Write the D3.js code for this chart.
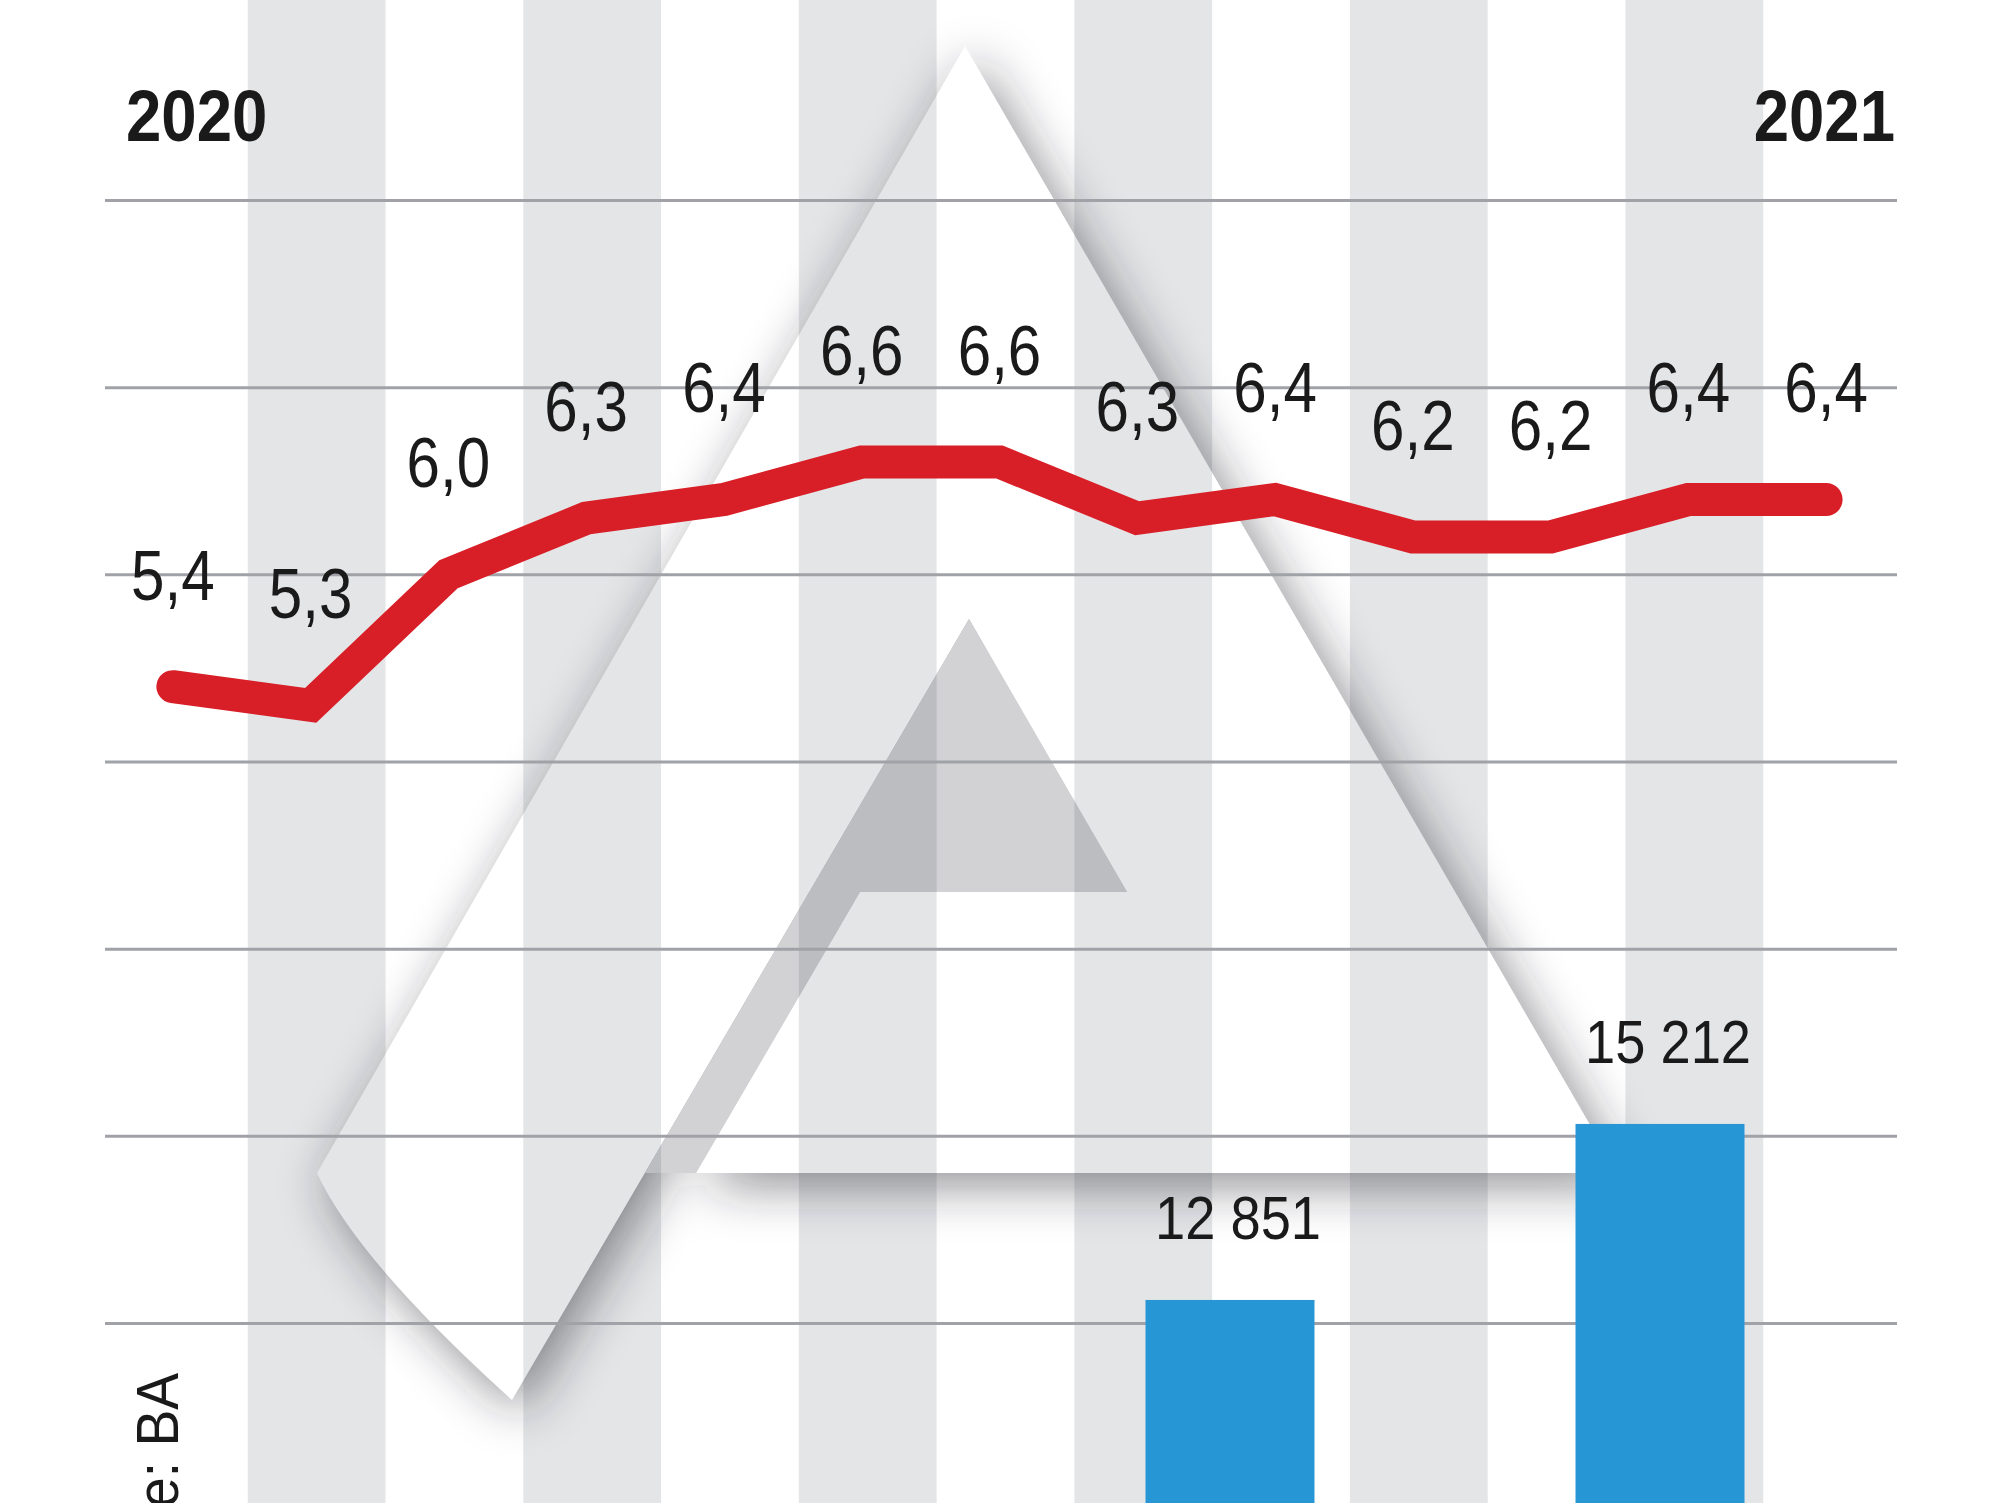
<!doctype html>
<html>
<head>
<meta charset="utf-8">
<style>
  html, body { margin: 0; padding: 0; background: #fff; }
  svg { display: block; }
  text { font-family: "Liberation Sans", Arial, sans-serif; fill: #1a1a1a; }
</style>
<script src="https://d3js.org/d3.v7.min.js"></script>
</head>
<body>
<svg width="2000" height="1503"></svg>
<script>
  // monthly values (one column per month)
  var months = ["2020-02", "2020-03", "2020-04", "2020-05", "2020-06", "2020-07", "2020-08",
                "2020-09", "2020-10", "2020-11", "2020-12", "2021-01", "2021-02"];
  var rate = [5.4, 5.3, 6.0, 6.3, 6.4, 6.6, 6.6, 6.3, 6.4, 6.2, 6.2, 6.4, 6.4];
  var gridTicks = [2, 3, 4, 5, 6, 7, 8];
  var yearLabels = ["2020", "2021"];

  // bars (only the upper part of them is in the picture)
  var barCategories = ["Q3", "Q4"];
  var barValues = [12851, 15212];

  var sourceText = "Quelle: BA";

  var svg = d3.select("svg"),
    width = +svg.attr("width"),
    height = +svg.attr("height");

  var x = d3.scaleBand().domain(months).range([110, 1901]);
  var y = d3.scaleLinear().domain([2, 8]).range([1323, 200]);
  var xBar = d3.scaleBand().domain(barCategories).range([1015, 1875])
    .paddingInner(0.607).paddingOuter(0.3035);
  var yBar = d3.scaleLinear().domain([0, 20000]).range([2258, 767]);

  function px(d) { return x(d) + x.bandwidth() / 2 - 6; }

  var de = d3.formatLocale({ decimal: ",", thousands: " ", grouping: [3], currency: ["", " €"] });
  var fmtRate = de.format(".1f"),
    fmtBar = de.format(",d");

  // grey columns
  svg.append("g").selectAll("rect")
    .data(months.filter(function (d, i) { return i % 2 === 1; }))
    .enter().append("rect")
    .attr("x", function (d) { return x(d); })
    .attr("y", 0)
    .attr("width", x.bandwidth())
    .attr("height", height)
    .attr("fill", "#e4e5e7");

  // background "A" logo, only its shadows are visible
  var logoA = "M965,46 L1618,1173 L696,1173 L860,892 L1127,892 L969,619 L512,1400 Q357,1260 317,1173 Z";
  var logoHole = "M969,619 L1127,892 L860,892 L696,1173 L645,1173 Z";

  var defs = svg.append("defs");
  defs.append("filter")
    .attr("id", "soft")
    .attr("filterUnits", "userSpaceOnUse")
    .attr("x", -200).attr("y", -200).attr("width", 2400).attr("height", 1900)
    .append("feGaussianBlur").attr("stdDeviation", 26);
  var mask = defs.append("mask")
    .attr("id", "outside")
    .attr("maskUnits", "userSpaceOnUse")
    .attr("x", 0).attr("y", 0).attr("width", width).attr("height", height);
  mask.append("rect").attr("width", width).attr("height", height).attr("fill", "#fff");
  mask.append("path").attr("d", logoA).attr("fill", "#000");
  mask.append("path").attr("d", logoHole).attr("fill", "#000");

  var logo = svg.append("g");
  logo.append("g")
    .attr("mask", "url(#outside)")
    .append("path")
    .attr("d", logoA)
    .attr("transform", "translate(10,12)")
    .attr("fill", "#1c1e26")
    .attr("opacity", 0.5)
    .attr("filter", "url(#soft)");
  logo.append("path")
    .attr("d", logoHole)
    .attr("fill", "#1c1e26")
    .attr("opacity", 0.2);

  // horizontal grid
  var grid = svg.append("g")
    .attr("transform", "translate(105,0)")
    .call(d3.axisLeft(y).tickValues(gridTicks).tickSize(-1792).tickFormat(""));
  grid.select(".domain").remove();
  grid.selectAll(".tick line")
    .attr("stroke", "#a0a2a7")
    .attr("stroke-width", 3);

  // red line
  var line = d3.line()
    .x(function (d, i) { return px(months[i]); })
    .y(function (d) { return y(d); });

  svg.append("path")
    .datum(rate)
    .attr("d", line)
    .attr("fill", "none")
    .attr("stroke", "#d81f27")
    .attr("stroke-width", 33)
    .attr("stroke-linecap", "round")
    .attr("stroke-linejoin", "miter");

  svg.append("g").selectAll("text")
    .data(rate)
    .enter().append("text")
    .attr("transform", function (d, i) {
      return "translate(" + px(months[i]) + "," + (y(d) - 87) + ") scale(0.86,1)";
    })
    .attr("text-anchor", "middle")
    .style("font-size", "70px")
    .text(function (d) { return fmtRate(d); });

  // blue bars
  svg.append("g").selectAll("rect")
    .data(barValues)
    .enter().append("rect")
    .attr("x", function (d, i) { return xBar(barCategories[i]); })
    .attr("y", function (d) { return yBar(d); })
    .attr("width", xBar.bandwidth())
    .attr("height", function (d) { return yBar(0) - yBar(d); })
    .attr("fill", "#2796d5");

  svg.append("g").selectAll("text")
    .data(barValues)
    .enter().append("text")
    .attr("transform", function (d, i) {
      var cx = xBar(barCategories[i]) + xBar.bandwidth() / 2 + 8;
      return "translate(" + cx + "," + (yBar(d) - 61) + ") scale(0.89,1)";
    })
    .attr("text-anchor", "middle")
    .style("font-size", "61px")
    .text(function (d) { return fmtBar(d); });

  // years
  svg.append("text")
    .attr("transform", "translate(126,141) scale(0.87,1)")
    .style("font-size", "73px")
    .style("font-weight", "bold")
    .text(yearLabels[0]);
  svg.append("text")
    .attr("transform", "translate(1895,141) scale(0.87,1)")
    .attr("text-anchor", "end")
    .style("font-size", "73px")
    .style("font-weight", "bold")
    .text(yearLabels[1]);

  // source, vertical (runs off the bottom edge as in the original crop)
  svg.append("text")
    .attr("transform", "translate(178,1373) rotate(-90) scale(0.92,1)")
    .attr("text-anchor", "end")
    .style("font-size", "60px")
    .text(sourceText);
</script>
</body>
</html>
